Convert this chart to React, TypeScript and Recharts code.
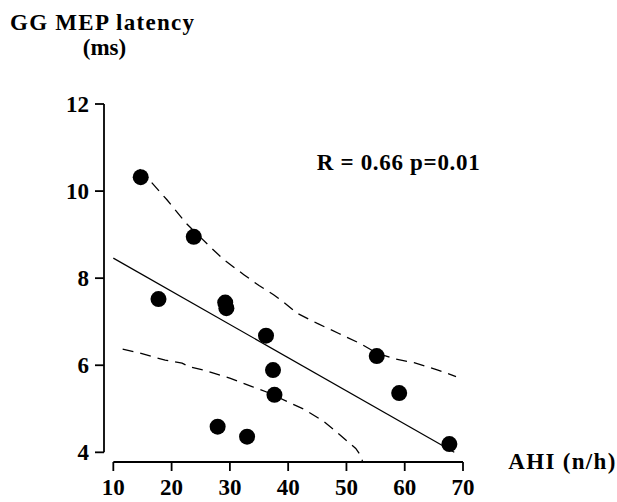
import React from 'react';
import { ScatterChart, Scatter, XAxis, YAxis, ReferenceLine } from 'recharts';

// Measured data (AHI n/h vs GG MEP latency ms)
const ahi = [14.7, 23.8, 17.75, 29.2, 29.4, 36.2, 37.4, 37.65, 27.9, 32.95, 55.2, 59.05, 67.66];
const latency = [10.32, 8.95, 7.52, 7.44, 7.31, 6.68, 5.89, 5.32, 4.59, 4.36, 6.21, 5.36, 4.19];

// Regression line
const fitX = [10, 68.5];
const fitY = [8.46, 4.0];

// Upper confidence band
const upperX = [14.5, 16.1, 19.2, 22.5, 26.3, 29, 32.4, 35, 37.5, 39.3, 41.6, 45, 48.7, 52.5, 55.2, 58.5, 61.6, 65.7, 68.8];
const upperY = [10.5, 10.27, 9.8, 9.26, 8.76, 8.42, 8.08, 7.83, 7.62, 7.44, 7.19, 6.96, 6.73, 6.49, 6.28, 6.14, 6.06, 5.89, 5.74];

// Lower confidence band
const lowerX = [11.6, 14.3, 17.2, 18.9, 21.8, 22.9, 25.8, 27.2, 30.1, 33.8, 36.4, 40.4, 42.7, 45.9, 48, 50.2, 51.6, 52.3, 52.75];
const lowerY = [6.37, 6.29, 6.18, 6.12, 6.05, 5.97, 5.88, 5.82, 5.7, 5.51, 5.38, 5.13, 4.99, 4.73, 4.5, 4.25, 4.09, 3.95, 3.8];

const xTicks = [10, 20, 30, 40, 50, 60, 70];
const yTicks = [4, 6, 8, 10, 12];

const toPts = (xs: number[], ys: number[]) => xs.map((x, i) => ({ x, y: ys[i] }));
const points = toPts(ahi, latency);
const fit = toPts(fitX, fitY);
const upper = toPts(upperX, upperY);
const lower = toPts(lowerX, lowerY);

const W = 617;
const H = 502;
const XMIN = 8.4;
const YMIN = 3.778;
const FONT = "'Liberation Serif', 'Times New Roman', serif";
const INK = '#000';

const tickStyle = { fill: INK, fontSize: 23, fontWeight: 'bold', fontFamily: FONT };

const Dot = (props: any) => <circle cx={props.cx} cy={props.cy} r={8} fill={INK} />;
const NoDot = () => <g />;

export default function App() {
  return (
    <div style={{ position: 'relative', width: W, height: H }}>
      <style>{'html,body{margin:0;padding:0;overflow:hidden;}'}</style>
      <ScatterChart width={W} height={H} margin={{ top: 104, right: 154, bottom: 0, left: 44 }}>
        <XAxis
          type="number"
          dataKey="x"
          domain={[XMIN, 70]}
          ticks={xTicks}
          interval={0}
          allowDataOverflow
          axisLine={false}
          tickSize={9}
          tickMargin={8}
          tickLine={{ stroke: INK, strokeWidth: 1.8 }}
          tick={tickStyle}
          height={40}
        />
        <YAxis
          type="number"
          dataKey="y"
          domain={[YMIN, 12]}
          ticks={yTicks}
          interval={0}
          allowDataOverflow
          axisLine={false}
          tickSize={9}
          tickMargin={6}
          tickLine={{ stroke: INK, strokeWidth: 1.8 }}
          tick={tickStyle}
          width={60}
        />
        <ReferenceLine
          segment={[{ x: XMIN, y: 4 }, { x: XMIN, y: 12 }]}
          stroke={INK}
          strokeWidth={1.8}
          ifOverflow="visible"
        />
        <ReferenceLine
          segment={[{ x: 10, y: YMIN }, { x: 70, y: YMIN }]}
          stroke={INK}
          strokeWidth={1.8}
          ifOverflow="visible"
        />
        <Scatter
          data={upper}
          line={{ stroke: INK, strokeWidth: 1.3, strokeDasharray: '11 7' }}
          lineType="joint"
          shape={NoDot}
          isAnimationActive={false}
        />
        <Scatter
          data={lower}
          line={{ stroke: INK, strokeWidth: 1.3, strokeDasharray: '11 7' }}
          lineType="joint"
          shape={NoDot}
          isAnimationActive={false}
        />
        <Scatter
          data={fit}
          line={{ stroke: INK, strokeWidth: 1.2 }}
          lineType="joint"
          shape={NoDot}
          isAnimationActive={false}
        />
        <Scatter data={points} shape={Dot} isAnimationActive={false} />
      </ScatterChart>
      <svg
        width={W}
        height={H}
        style={{ position: 'absolute', left: 0, top: 0, pointerEvents: 'none' }}
      >
        <text x={10} y={29.5} fontFamily={FONT} fontSize={23} fontWeight="bold" fill={INK} textLength={184} lengthAdjust="spacing">
          GG MEP latency
        </text>
        <text x={104.5} y={55} fontFamily={FONT} fontSize={23} fontWeight="bold" fill={INK} textAnchor="middle">
          (ms)
        </text>
        <text x={316.7} y={170} fontFamily={FONT} fontSize={23} fontWeight="bold" fill={INK} textLength={163} lengthAdjust="spacing">
          R = 0.66 p=0.01
        </text>
        <text x={508.3} y={469.3} fontFamily={FONT} fontSize={23} fontWeight="bold" fill={INK} textLength={107} lengthAdjust="spacing">
          AHI (n/h)
        </text>
      </svg>
    </div>
  );
}
